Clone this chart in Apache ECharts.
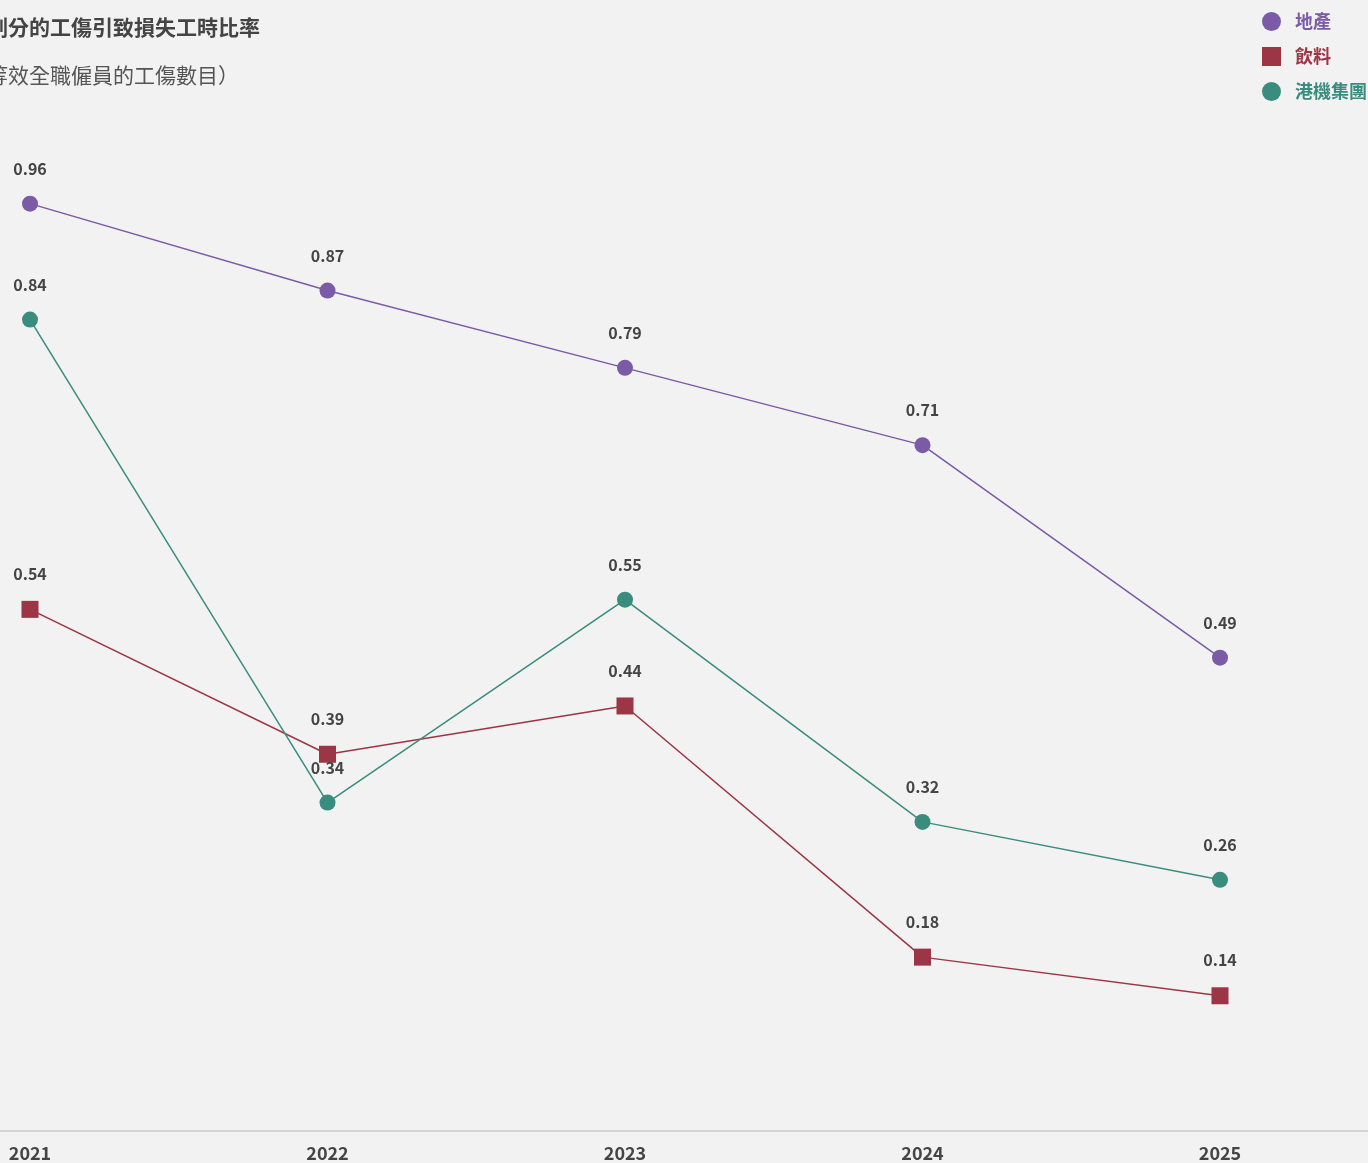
<!DOCTYPE html>
<html>
<head>
<meta charset="utf-8">
<script src="https://cdn.jsdelivr.net/npm/echarts@6/dist/echarts.min.js"></script>
<style>
  html, body { margin: 0; padding: 0; background: #f1f2f1; }
  #chart { width: 1368px; height: 1163px; }
</style>
</head>
<body>
<div id="chart"></div>
<script>
var years = [2021, 2022, 2023, 2024, 2025];
var property = [0.96, 0.87, 0.79, 0.71, 0.49];
var beverages = [0.54, 0.39, 0.44, 0.18, 0.14];
var haeco = [0.84, 0.34, 0.55, 0.32, 0.26];

var colors = { property: "#7b5aa6", beverages: "#9c3545", haeco: "#3a8c7e" };
var font = "'Noto Sans CJK TC', 'Noto Sans', sans-serif";

var myChart = echarts.init(document.getElementById("chart"));

function makeSeries(name, values, color, symbol, size) {
  return {
    name: name,
    type: "line",
    data: years.map(function (y, i) { return [y, values[i]]; }),
    symbol: symbol,
    symbolSize: size,
    lineStyle: { color: color, width: 1.5 },
    itemStyle: { color: color },
    label: {
      show: true,
      position: "top",
      distance: 19,
      color: "#444",
      fontSize: 16,
      fontWeight: "bold",
      fontFamily: font,
      formatter: function (p) { return p.value[1].toFixed(2); }
    }
  };
}

var option = {
  backgroundColor: "#f1f2f1",
  animation: false,
  title: {
    text: "劃分的工傷引致損失工時比率",
    subtext: "等效全職僱員的工傷數目）",
    left: -18,
    top: 12,
    itemGap: 27,
    textStyle: { fontSize: 21, fontWeight: "bold", color: "#444", fontFamily: font },
    subtextStyle: { fontSize: 21, color: "#555", fontFamily: font }
  },
  legend: {
    orient: "vertical",
    left: 1257,
    top: 7,
    itemWidth: 19,
    itemHeight: 19,
    itemGap: 16,
    textStyle: { fontSize: 18, fontWeight: "bold", fontFamily: font, padding: [0, 0, 0, 9] },
    data: [
      { name: "地產", icon: "circle", textStyle: { color: colors.property } },
      { name: "飲料", icon: "rect", textStyle: { color: colors.beverages } },
      { name: "港機集團", icon: "circle", textStyle: { color: colors.haeco } }
    ]
  },
  grid: { left: 0, right: 0, top: 165, bottom: 32 },
  xAxis: {
    type: "value",
    min: 2021 - 30 / 297.5,
    max: 2025 + 148 / 297.5,
    splitLine: { show: false },
    axisLine: { lineStyle: { color: "#c8c8c8", width: 1.5 } },
    axisTick: { show: false },
    axisLabel: {
      customValues: years,
      color: "#444",
      fontSize: 18,
      fontWeight: "bold",
      fontFamily: font,
      margin: 13,
      formatter: function (v) { return String(v); }
    }
  },
  yAxis: {
    type: "value",
    min: 0,
    max: 1,
    show: false,
    splitLine: { show: false }
  },
  series: [
    makeSeries("地產", property, colors.property, "circle", 16),
    makeSeries("飲料", beverages, colors.beverages, "rect", 17),
    makeSeries("港機集團", haeco, colors.haeco, "circle", 16)
  ]
};

myChart.setOption(option);
</script>
</body>
</html>
